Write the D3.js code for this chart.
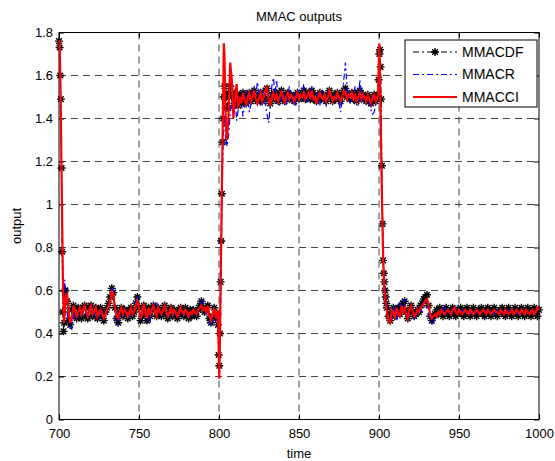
<!DOCTYPE html>
<meta charset="utf-8">
<script src="https://d3js.org/d3.v7.min.js"></script>
<style>
  body { margin: 0; background: #fff; }
  text { font-family: "Liberation Sans", Arial, Helvetica, sans-serif; }
</style>
<div id="chart"></div>
<script>

// sample times: finer steps around the three set-point changes
var tStart = [700, 700.4, 700.8, 701.2, 701.6, 702, 702.4, 702.8, 703.2, 703.6];
var tStep1 = [799.4, 799.8, 800.2, 800.6, 801, 801.4, 801.8, 802.2, 802.6, 803, 803.4, 803.8, 804.2, 804.6];
var tStep2 = [899.4, 899.8, 900.2, 900.6, 901, 901.4, 901.8, 902.2, 902.6, 903, 903.4, 903.8, 904.2, 904.6];
var time = tStart.concat(d3.range(704, 800), tStep1, d3.range(805, 900), tStep2, d3.range(905, 1001));

var seriesNames = ["MMACDF", "MMACR", "MMACCI"];

var mmacdf = [
  1.76, 1.73, 1.6, 1.49, 1.17, 0.78, 0.5, 0.41, 0.45, 0.6,
  // 704 - 799
  0.6, 0.55, 0.46, 0.44, 0.51, 0.53, 0.49, 0.47, 0.52, 0.5,
  0.47, 0.52, 0.53, 0.48, 0.47, 0.52, 0.53, 0.48, 0.5, 0.52,
  0.47, 0.51, 0.52, 0.48, 0.46, 0.5, 0.52, 0.54, 0.57, 0.61,
  0.59, 0.52, 0.47, 0.45, 0.5, 0.52, 0.48, 0.51, 0.5, 0.47,
  0.51, 0.52, 0.48, 0.5, 0.54, 0.57, 0.52, 0.46, 0.48, 0.53,
  0.5, 0.46, 0.52, 0.48, 0.51, 0.53, 0.52, 0.48, 0.52, 0.49,
  0.48, 0.51, 0.53, 0.49, 0.47, 0.51, 0.52, 0.48, 0.51, 0.49,
  0.47, 0.51, 0.52, 0.49, 0.48, 0.52, 0.5, 0.47, 0.51, 0.48,
  0.51, 0.49, 0.48, 0.51, 0.53, 0.55, 0.52, 0.5, 0.51, 0.53,
  0.47, 0.45, 0.48, 0.52, 0.47, 0.49,
  // 799.4 - 804.6
  0.44, 0.3, 0.25, 0.4, 0.64, 0.83, 1.05, 1.29, 1.4, 1.5, 1.55, 1.5, 1.45, 1.5,
  // 805 - 899
  1.45, 1.52, 1.55, 1.5, 1.46, 1.52, 1.48, 1.46, 1.51, 1.47,
  1.52, 1.49, 1.47, 1.51, 1.52, 1.48, 1.5, 1.53, 1.49, 1.48,
  1.51, 1.52, 1.48, 1.5, 1.53, 1.54, 1.49, 1.47, 1.51, 1.52,
  1.49, 1.52, 1.48, 1.5, 1.53, 1.49, 1.48, 1.51, 1.52, 1.49,
  1.51, 1.49, 1.48, 1.51, 1.52, 1.49, 1.51, 1.5, 1.53, 1.49,
  1.5, 1.52, 1.49, 1.53, 1.49, 1.51, 1.48, 1.5, 1.52, 1.49,
  1.51, 1.49, 1.48, 1.51, 1.53, 1.5, 1.48, 1.51, 1.49, 1.52,
  1.5, 1.48, 1.51, 1.53, 1.54, 1.5, 1.51, 1.49, 1.52, 1.49,
  1.52, 1.48, 1.5, 1.53, 1.49, 1.51, 1.5, 1.48, 1.51, 1.49,
  1.47, 1.49, 1.51, 1.48, 1.51,
  // 899.4 - 904.6
  1.5, 1.58, 1.7, 1.72, 1.64, 1.49, 1.18, 0.91, 0.74, 0.68, 0.64, 0.6, 0.57, 0.54,
  // 905 - 1000
  0.52, 0.48, 0.46, 0.5, 0.52, 0.48, 0.51, 0.52, 0.49, 0.53,
  0.54, 0.55, 0.5, 0.47, 0.51, 0.53, 0.5, 0.48, 0.49, 0.51,
  0.5, 0.53, 0.54, 0.56, 0.57, 0.58, 0.53, 0.48, 0.46, 0.48,
  0.49, 0.51, 0.49, 0.52, 0.5, 0.48, 0.51, 0.52, 0.49, 0.48,
  0.51, 0.52, 0.49, 0.48, 0.51, 0.5, 0.52, 0.49, 0.48, 0.51,
  0.52, 0.49, 0.48, 0.51, 0.52, 0.49, 0.48, 0.51, 0.5, 0.52,
  0.49, 0.48, 0.51, 0.52, 0.49, 0.48, 0.51, 0.52, 0.49, 0.48,
  0.5, 0.51, 0.52, 0.49, 0.48, 0.51, 0.52, 0.49, 0.48, 0.5,
  0.52, 0.49, 0.48, 0.51, 0.52, 0.49, 0.48, 0.51, 0.52, 0.49,
  0.48, 0.51, 0.52, 0.49, 0.48, 0.51
];

var mmacr = [
  1.76, 1.75, 1.6, 1.35, 1.1, 0.85, 0.62, 0.5, 0.58, 0.65,
  // 704 - 799
  0.6, 0.5, 0.44, 0.43, 0.42, 0.47, 0.5, 0.47, 0.49, 0.51,
  0.48, 0.5, 0.52, 0.49, 0.47, 0.5, 0.52, 0.48, 0.49, 0.51,
  0.47, 0.49, 0.5, 0.48, 0.46, 0.48, 0.5, 0.53, 0.57, 0.62,
  0.6, 0.5, 0.45, 0.44, 0.48, 0.51, 0.48, 0.5, 0.49, 0.47,
  0.49, 0.51, 0.48, 0.5, 0.55, 0.58, 0.53, 0.46, 0.48, 0.53,
  0.49, 0.46, 0.5, 0.45, 0.5, 0.52, 0.54, 0.55, 0.51, 0.49,
  0.48, 0.5, 0.52, 0.49, 0.47, 0.49, 0.51, 0.48, 0.5, 0.49,
  0.47, 0.49, 0.51, 0.49, 0.48, 0.5, 0.49, 0.47, 0.49, 0.48,
  0.5, 0.49, 0.48, 0.5, 0.53, 0.56, 0.55, 0.51, 0.49, 0.5,
  0.45, 0.44, 0.44, 0.5, 0.46, 0.48,
  // 799.4 - 804.6
  0.47, 0.38, 0.26, 0.32, 0.5, 0.72, 0.95, 1.15, 1.3, 1.38, 1.42, 1.35, 1.28, 1.3,
  // 805 - 899
  1.27, 1.32, 1.42, 1.48, 1.45, 1.5, 1.39, 1.44, 1.52, 1.47,
  1.41, 1.46, 1.53, 1.48, 1.43, 1.47, 1.52, 1.55, 1.5, 1.57,
  1.52, 1.46, 1.49, 1.53, 1.47, 1.42, 1.38, 1.45, 1.55, 1.59,
  1.52, 1.58, 1.5, 1.46, 1.49, 1.53, 1.48, 1.46, 1.51, 1.55,
  1.5, 1.47, 1.52, 1.46, 1.5, 1.54, 1.49, 1.52, 1.56, 1.5,
  1.47, 1.53, 1.49, 1.55, 1.51, 1.48, 1.52, 1.49, 1.46, 1.5,
  1.53, 1.48, 1.46, 1.5, 1.54, 1.5, 1.47, 1.51, 1.48, 1.52,
  1.47, 1.43, 1.49, 1.58, 1.66, 1.55, 1.5, 1.47, 1.52, 1.49,
  1.55, 1.5, 1.46, 1.58, 1.52, 1.48, 1.51, 1.47, 1.5, 1.46,
  1.44, 1.42, 1.43, 1.47, 1.5,
  // 899.4 - 904.6
  1.53, 1.6, 1.7, 1.62, 1.45, 1.3, 1.12, 0.95, 0.8, 0.7, 0.66, 0.62, 0.58, 0.55,
  // 905 - 1000
  0.52, 0.47, 0.45, 0.47, 0.53, 0.49, 0.46, 0.5, 0.54, 0.52,
  0.55, 0.56, 0.5, 0.46, 0.49, 0.54, 0.51, 0.47, 0.48, 0.5,
  0.49, 0.51, 0.5, 0.52, 0.54, 0.55, 0.5, 0.46, 0.44, 0.45,
  0.48, 0.5, 0.49, 0.51, 0.52, 0.5, 0.53, 0.51, 0.49, 0.5,
  0.51, 0.49, 0.5, 0.52, 0.5, 0.49, 0.5, 0.51, 0.49, 0.5,
  0.51, 0.5, 0.49, 0.51, 0.5, 0.49, 0.5, 0.51, 0.5, 0.49,
  0.5, 0.51, 0.5, 0.49, 0.5, 0.51, 0.5, 0.49, 0.5, 0.51,
  0.5, 0.49, 0.5, 0.51, 0.49, 0.5, 0.51, 0.5, 0.49, 0.5,
  0.51, 0.49, 0.5, 0.5, 0.49, 0.51, 0.5, 0.49, 0.5, 0.51,
  0.5, 0.49, 0.5, 0.51, 0.5, 0.5
];

var mmacci = [
  1.76, 1.76, 1.6, 1.38, 1.15, 0.9, 0.68, 0.5, 0.45, 0.5,
  // 704 - 799
  0.56, 0.59, 0.5, 0.45, 0.47, 0.53, 0.51, 0.48, 0.5, 0.52,
  0.49, 0.51, 0.53, 0.5, 0.48, 0.51, 0.53, 0.49, 0.5, 0.52,
  0.48, 0.5, 0.51, 0.49, 0.47, 0.49, 0.51, 0.53, 0.55, 0.6,
  0.58, 0.52, 0.48, 0.47, 0.5, 0.52, 0.49, 0.51, 0.5, 0.48,
  0.5, 0.52, 0.49, 0.5, 0.53, 0.55, 0.52, 0.47, 0.49, 0.54,
  0.5, 0.47, 0.52, 0.49, 0.51, 0.53, 0.5, 0.48, 0.52, 0.5,
  0.49, 0.51, 0.53, 0.5, 0.48, 0.5, 0.52, 0.49, 0.51, 0.5,
  0.48, 0.5, 0.52, 0.5, 0.49, 0.51, 0.5, 0.48, 0.5, 0.49,
  0.51, 0.5, 0.49, 0.51, 0.52, 0.53, 0.51, 0.52, 0.5, 0.53,
  0.48, 0.46, 0.49, 0.52, 0.47, 0.5,
  // 799.4 - 804.6
  0.5, 0.33, 0.19, 0.4, 0.62, 0.85, 1.08, 1.3, 1.52, 1.75, 1.7, 1.55, 1.4, 1.32,
  // 805 - 899
  1.3, 1.42, 1.66, 1.58, 1.4, 1.5, 1.56, 1.45, 1.5, 1.47,
  1.52, 1.49, 1.46, 1.5, 1.52, 1.48, 1.5, 1.53, 1.49, 1.47,
  1.5, 1.52, 1.48, 1.5, 1.53, 1.55, 1.49, 1.46, 1.5, 1.52,
  1.49, 1.51, 1.48, 1.5, 1.53, 1.5, 1.47, 1.5, 1.52, 1.49,
  1.51, 1.5, 1.48, 1.5, 1.52, 1.49, 1.51, 1.5, 1.52, 1.49,
  1.5, 1.52, 1.5, 1.53, 1.49, 1.5, 1.47, 1.5, 1.52, 1.5,
  1.49, 1.51, 1.48, 1.5, 1.53, 1.51, 1.48, 1.5, 1.49, 1.52,
  1.5, 1.48, 1.5, 1.53, 1.52, 1.49, 1.51, 1.5, 1.52, 1.49,
  1.51, 1.48, 1.5, 1.52, 1.49, 1.51, 1.5, 1.48, 1.51, 1.49,
  1.47, 1.5, 1.51, 1.48, 1.5,
  // 899.4 - 904.6
  1.52, 1.62, 1.75, 1.6, 1.4, 1.22, 1.05, 0.9, 0.76, 0.65, 0.6, 0.57, 0.55, 0.52,
  // 905 - 1000
  0.5, 0.46, 0.45, 0.51, 0.5, 0.47, 0.52, 0.49, 0.48, 0.53,
  0.5, 0.52, 0.49, 0.47, 0.51, 0.53, 0.5, 0.48, 0.49, 0.51,
  0.5, 0.52, 0.53, 0.54, 0.55, 0.56, 0.53, 0.49, 0.47, 0.48,
  0.49, 0.48, 0.5, 0.49, 0.51, 0.5, 0.49, 0.5, 0.51, 0.5,
  0.49, 0.51, 0.52, 0.5, 0.49, 0.51, 0.5, 0.49, 0.5, 0.51,
  0.5, 0.49, 0.51, 0.5, 0.49, 0.5, 0.51, 0.5, 0.49, 0.5,
  0.51, 0.5, 0.49, 0.51, 0.5, 0.49, 0.5, 0.51, 0.5, 0.5,
  0.49, 0.51, 0.5, 0.49, 0.51, 0.5, 0.49, 0.5, 0.51, 0.49,
  0.5, 0.51, 0.5, 0.49, 0.51, 0.5, 0.49, 0.51, 0.5, 0.49,
  0.5, 0.51, 0.49, 0.5, 0.52, 0.51
];

var xTicks = [700, 750, 800, 850, 900, 950, 1000];
var yTicks = [0, 0.2, 0.4, 0.6, 0.8, 1, 1.2, 1.4, 1.6, 1.8];

// set the dimensions and margins of the graph
var margin = {top: 32.5, right: 16, bottom: 41.5, left: 59},
    width = 555 - margin.left - margin.right,
    height = 461 - margin.top - margin.bottom;

var svg = d3.select("#chart")
  .append("svg")
    .attr("width", 555)
    .attr("height", 461)
  .append("g")
    .attr("transform", "translate(" + margin.left + "," + margin.top + ")");

var x = d3.scaleLinear().domain([700, 1000]).range([0, width]);
var y = d3.scaleLinear().domain([0, 1.8]).range([height, 0]);

var fmt = function(d) { return String(+d.toFixed(1)); };

// grid
svg.append("g")
  .selectAll("line")
  .data(xTicks.slice(1, -1))
  .join("line")
    .attr("x1", function(d) { return x(d); })
    .attr("x2", function(d) { return x(d); })
    .attr("y1", 0)
    .attr("y2", height)
    .attr("stroke", "#444")
    .attr("stroke-dasharray", "7,5");
svg.append("g")
  .selectAll("line")
  .data(yTicks.slice(1, -1))
  .join("line")
    .attr("x1", 0)
    .attr("x2", width)
    .attr("y1", function(d) { return y(d); })
    .attr("y2", function(d) { return y(d); })
    .attr("stroke", "#444")
    .attr("stroke-dasharray", "7,5");

// axes, ticks pointing inside
svg.append("g")
  .attr("transform", "translate(0," + height + ")")
  .call(d3.axisBottom(x).tickValues(xTicks).tickSize(-5).tickPadding(9).tickFormat(fmt));
svg.append("g")
  .call(d3.axisLeft(y).tickValues(yTicks).tickSize(-5).tickPadding(6).tickFormat(fmt));
svg.append("g")
  .call(d3.axisTop(x).tickValues(xTicks).tickSize(-5).tickFormat(""));
svg.append("g")
  .attr("transform", "translate(" + width + ",0)")
  .call(d3.axisRight(y).tickValues(yTicks).tickSize(-5).tickFormat(""));
svg.selectAll(".domain").remove();
svg.selectAll(".tick line").attr("stroke", "#000");
svg.selectAll(".tick text")
  .attr("fill", "#000")
  .style("font-size", "13px")
  .style("font-family", "'Liberation Sans', Arial, sans-serif");

// box
svg.append("rect")
  .attr("width", width)
  .attr("height", height)
  .attr("fill", "none")
  .attr("stroke", "#000");

// lines
var series = [
  {name: seriesNames[0], values: mmacdf, color: "#000", width: 1, dash: "6,3,2,3", marker: true},
  {name: seriesNames[1], values: mmacr, color: "#0000ff", width: 1.2, dash: "6,3,2,3", marker: false},
  {name: seriesNames[2], values: mmacci, color: "#ff0000", width: 2.2, dash: null, marker: false}
];

var line = d3.line()
  .x(function(d) { return x(d[0]); })
  .y(function(d) { return y(d[1]); });

var star = "M-4,0H4M0,-4V4M-2.8,-2.8L2.8,2.8M-2.8,2.8L2.8,-2.8";

series.forEach(function(s) {
  var pts = time.map(function(t, i) { return [t, s.values[i]]; });
  svg.append("path")
    .datum(pts)
    .attr("fill", "none")
    .attr("stroke", s.color)
    .attr("stroke-width", s.width)
    .attr("stroke-dasharray", s.dash)
    .attr("d", line);
  if (s.marker) {
    svg.append("g")
      .selectAll("path")
      .data(pts)
      .join("path")
        .attr("transform", function(d) { return "translate(" + x(d[0]) + "," + y(d[1]) + ")"; })
        .attr("d", star)
        .attr("stroke", s.color)
        .attr("stroke-width", 1.4)
        .attr("fill", "none");
  }
});

// title and labels
svg.append("text")
  .attr("x", width / 2).attr("y", -12)
  .attr("text-anchor", "middle")
  .style("font-size", "13px")
  .text("MMAC outputs");
svg.append("text")
  .attr("x", width / 2).attr("y", height + 38)
  .attr("text-anchor", "middle")
  .style("font-size", "13px")
  .text("time");
svg.append("text")
  .attr("transform", "translate(-38," + (height / 2) + ") rotate(-90)")
  .attr("text-anchor", "middle")
  .style("font-size", "13px")
  .text("output");

// legend
var legend = svg.append("g")
  .attr("transform", "translate(" + (405 - margin.left) + "," + (40 - margin.top) + ")");
legend.append("rect")
  .attr("width", 132)
  .attr("height", 67)
  .attr("fill", "#fff")
  .attr("stroke", "#000");
series.forEach(function(s, i) {
  var ly = 12 + i * 22.5;
  legend.append("line")
    .attr("x1", 8).attr("x2", 52)
    .attr("y1", ly).attr("y2", ly)
    .attr("stroke", s.color)
    .attr("stroke-width", s.width)
    .attr("stroke-dasharray", s.dash);
  if (s.marker) {
    legend.append("path")
      .attr("transform", "translate(30," + ly + ")")
      .attr("d", star)
      .attr("stroke", s.color)
      .attr("stroke-width", 1.4)
      .attr("fill", "none");
  }
  legend.append("text")
    .attr("x", 57).attr("y", ly)
    .attr("dy", "0.35em")
    .style("font-size", "14px")
    .text(s.name);
});

</script>
